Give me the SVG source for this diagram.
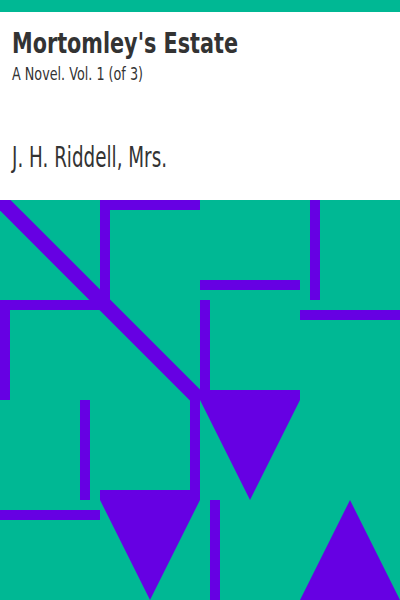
<svg xmlns="http://www.w3.org/2000/svg" width="400" height="600" viewBox="0 0 400 600">
<style>
.p{fill:#6600E3}
.t{fill:#333333;font-family:"DejaVu Sans","Liberation Sans",sans-serif}
</style>
<rect x="0" y="0" width="400" height="600" fill="#00B894"/>
<g id="pattern">
<line x1="-20" y1="180" x2="200" y2="400" stroke="#6600E3" stroke-width="15"/>
<rect class="p" x="100" y="200" width="10" height="100"/>
<rect class="p" x="100" y="200" width="100" height="10"/>
<rect class="p" x="0" y="300" width="100" height="10"/>
<rect class="p" x="0" y="300" width="10" height="100"/>
<rect class="p" x="200" y="280" width="100" height="10"/>
<rect class="p" x="200" y="300" width="10" height="100"/>
<rect class="p" x="310" y="200" width="10" height="100"/>
<rect class="p" x="300" y="310" width="100" height="10"/>
<rect class="p" x="200" y="390" width="100" height="10"/>
<rect class="p" x="190" y="400" width="10" height="100"/>
<rect class="p" x="80" y="400" width="10" height="100"/>
<rect class="p" x="0" y="510" width="100" height="10"/>
<rect class="p" x="100" y="490" width="100" height="10"/>
<rect class="p" x="210" y="500" width="10" height="100"/>
<polygon class="p" points="200,400 300,400 250,500"/>
<polygon class="p" points="100,500 200,500 150,600"/>
<polygon class="p" points="300,600 400,600 350,500"/>
</g>
<g id="header">
<rect x="0" y="12" width="400" height="188" fill="#FFFFFF"/>
<text class="t" x="12" y="53" font-size="29" font-weight="bold" textLength="226" lengthAdjust="spacingAndGlyphs">Mortomley's Estate</text>
<text class="t" x="12" y="80" font-size="18" textLength="131" lengthAdjust="spacingAndGlyphs">A Novel. Vol. 1 (of 3)</text>
<text class="t" x="12" y="167" font-size="27.5" textLength="155" lengthAdjust="spacingAndGlyphs">J. H. Riddell, Mrs.</text>
</g>
</svg>
